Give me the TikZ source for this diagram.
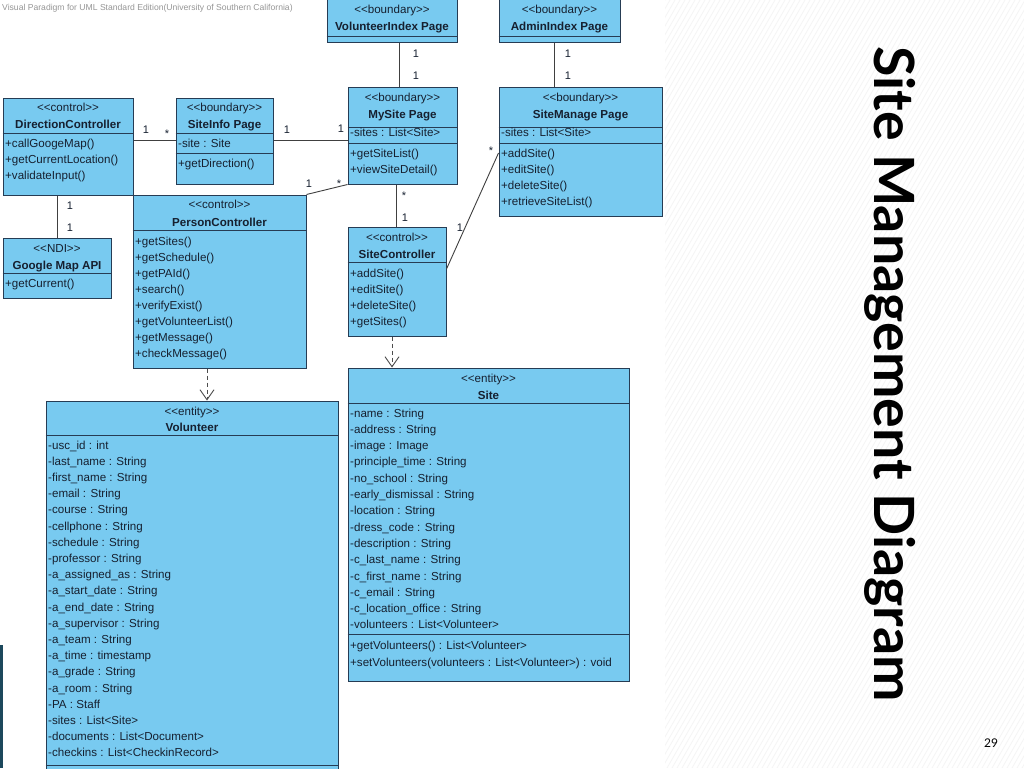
\documentclass[tikz,border=0pt]{standalone}
\usepackage{fontspec}
\setmainfont{Liberation Sans}[Ligatures=TeXOff]
\newfontfamily\titlefont{Lato}
\usetikzlibrary{fit,arrows.meta}
\definecolor{boxfill}{RGB}{120,202,240}
\definecolor{boxline}{RGB}{38,60,84}
\definecolor{txtc}{RGB}{22,32,48}
\definecolor{wmark}{RGB}{150,150,150}
\definecolor{edgebar}{RGB}{28,72,92}
\newcounter{ln}
\newcommand\umlL[3]{\stepcounter{ln}\node[mtxt] (ln\arabic{ln}) at (#1,#2) {#3};}
\newcommand\umlC[3]{\stepcounter{ln}\node[ctxt] (ln\arabic{ln}) at (#1,#2) {#3};}
\newcommand\umlB[3]{\stepcounter{ln}\node[btxt] (ln\arabic{ln}) at (#1,#2) {#3};}
\newcommand\umlM[3]{\stepcounter{ln}\node[mult] (ln\arabic{ln}) at (#1,#2) {#3};}
\tikzset{
  umlbox/.style={draw=boxline, fill=boxfill, line width=1pt, inner sep=0pt},
  sepline/.style={draw=boxline, line width=1pt},
  mtxt/.style={anchor=base west, inner sep=0pt, text=txtc, font=\fontsize{11.6}{13}\selectfont},
  ctxt/.style={anchor=base, inner sep=0pt, text=txtc, font=\fontsize{11.6}{13}\selectfont},
  btxt/.style={anchor=base, inner sep=0pt, text=txtc, font=\fontsize{11.6}{13}\selectfont\bfseries},
  mult/.style={anchor=base, inner sep=0pt, text=txtc, font=\fontsize{11}{12}\selectfont},
  assoc/.style={draw=black!75, line width=0.9pt},
  depend/.style={draw=black!70, line width=0.9pt, dash pattern=on 4pt off 3pt,
    -{Straight Barb[length=10pt,width=14pt,line width=0.9pt]}},
  hatch/.style={draw=black!4, line width=0.8pt}
}
\begin{document}
\begin{tikzpicture}[x=1pt,y=-1pt]
\useasboundingbox (0,0) rectangle (1024,768);
\fill[white] (0,0) rectangle (1024,768);
\begin{scope}
\clip (665,0) rectangle (1024,768);
\foreach \k in {665,670,...,1480} \draw[hatch] (\k,0) -- (\k-443,768);
\end{scope}
\clip (0,0) rectangle (1024,768);
\fill[edgebar] (0,645) rectangle (3,768);
\node[anchor=west, inner sep=0pt, text=wmark, font=\fontsize{8.6}{10}\selectfont] (wm) at (2,8)
  {Visual Paradigm for UML Standard Edition(University of Southern California)};

% ---------- VolunteerIndex Page
\node[umlbox, fit={(327,-3) (457,43)}] (volidx) {};
\draw[sepline] (volidx.west |- 0,37) -- (volidx.east |- 0,37);
\umlC{392}{14}{<<boundary>>}
\umlB{392}{31}{VolunteerIndex Page}

% ---------- AdminIndex Page
\node[umlbox, fit={(499,-3) (620,43)}] (admidx) {};
\draw[sepline] (admidx.west |- 0,37) -- (admidx.east |- 0,37);
\umlC{559.5}{14}{<<boundary>>}
\umlB{559.5}{31}{AdminIndex Page}

% ---------- MySite Page
\node[umlbox, fit={(348,87) (457,184)}] (mysite) {};
\draw[sepline] (mysite.west |- 0,127) -- (mysite.east |- 0,127);
\draw[sepline] (mysite.west |- 0,143) -- (mysite.east |- 0,143);
\umlC{402.5}{101}{<<boundary>>}
\umlB{402.5}{118}{MySite Page}
\umlL{350}{136}{-sites : List<Site>}
\umlL{350}{157}{+getSiteList()}
\umlL{350}{173}{+viewSiteDetail()}

% ---------- SiteManage Page
\node[umlbox, fit={(499,87) (662,216)}] (sitemng) {};
\draw[sepline] (sitemng.west |- 0,127) -- (sitemng.east |- 0,127);
\draw[sepline] (sitemng.west |- 0,143) -- (sitemng.east |- 0,143);
\umlC{580.5}{101}{<<boundary>>}
\umlB{580.5}{118}{SiteManage Page}
\umlL{501}{136}{-sites : List<Site>}
\umlL{501}{157}{+addSite()}
\umlL{501}{173}{+editSite()}
\umlL{501}{189}{+deleteSite()}
\umlL{501}{205}{+retrieveSiteList()}

% ---------- DirectionController
\node[umlbox, fit={(3,98) (133,195)}] (dirctl) {};
\draw[sepline] (dirctl.west |- 0,133) -- (dirctl.east |- 0,133);
\umlC{68}{111}{<<control>>}
\umlB{68}{128}{DirectionController}
\umlL{5}{147}{+callGoogeMap()}
\umlL{5}{163}{+getCurrentLocation()}
\umlL{5}{179}{+validateInput()}

% ---------- SiteInfo Page
\node[umlbox, fit={(176,98) (273,184)}] (siteinfo) {};
\draw[sepline] (siteinfo.west |- 0,133) -- (siteinfo.east |- 0,133);
\draw[sepline] (siteinfo.west |- 0,153) -- (siteinfo.east |- 0,153);
\umlC{224.5}{111}{<<boundary>>}
\umlB{224.5}{128}{SiteInfo Page}
\umlL{178}{147}{-site : Site}
\umlL{178}{167}{+getDirection()}

% ---------- Google Map API
\node[umlbox, fit={(3,238) (111,298)}] (gmap) {};
\draw[sepline] (gmap.west |- 0,273) -- (gmap.east |- 0,273);
\umlC{57}{252}{<<NDI>>}
\umlB{57}{269}{Google Map API}
\umlL{5}{287}{+getCurrent()}

% ---------- PersonController
\node[umlbox, fit={(133,195) (306,368)}] (perctl) {};
\draw[sepline] (perctl.west |- 0,230) -- (perctl.east |- 0,230);
\umlC{219.5}{208}{<<control>>}
\umlB{219.5}{226}{PersonController}
\foreach \t [count=\i from 0] in {+getSites(),+getSchedule(),+getPAId(),+search(),+verifyExist(),+getVolunteerList(),+getMessage(),+checkMessage()}
  {\umlL{135}{245+16*\i}{\t}}

% ---------- SiteController
\node[umlbox, fit={(348,227) (446,336)}] (sitectl) {};
\draw[sepline] (sitectl.west |- 0,262) -- (sitectl.east |- 0,262);
\umlC{397}{241}{<<control>>}
\umlB{397}{258}{SiteController}
\umlL{350}{277}{+addSite()}
\umlL{350}{293}{+editSite()}
\umlL{350}{309}{+deleteSite()}
\umlL{350}{325}{+getSites()}

% ---------- Volunteer
\node[umlbox, fit={(46,401) (338,790)}] (volunteer) {};
\draw[sepline] (volunteer.west |- 0,435) -- (volunteer.east |- 0,435);
\draw[sepline] (volunteer.west |- 0,765) -- (volunteer.east |- 0,765);
\umlC{192}{415}{<<entity>>}
\umlB{192}{431}{Volunteer}
\foreach \t [count=\i from 0] in {-usc\_id : int,-last\_name : String,-first\_name : String,-email : String,-course : String,-cellphone : String,-schedule : String,-professor : String,-a\_assigned\_as : String,-a\_start\_date : String,-a\_end\_date : String,-a\_supervisor : String,-a\_team : String,-a\_time : timestamp,-a\_grade : String,-a\_room : String,-PA : Staff,-sites : List<Site>,-documents : List<Document>,-checkins : List<CheckinRecord>}
  {\umlL{48}{449+16.2*\i}{\t}}

% ---------- Site
\node[umlbox, fit={(348,368) (629,681)}] (site) {};
\draw[sepline] (site.west |- 0,403) -- (site.east |- 0,403);
\draw[sepline] (site.west |- 0,634) -- (site.east |- 0,634);
\umlC{488.5}{382}{<<entity>>}
\umlB{488.5}{399}{Site}
\foreach \t [count=\i from 0] in {-name : String,-address : String,-image : Image,-principle\_time : String,-no\_school : String,-early\_dismissal : String,-location : String,-dress\_code : String,-description : String,-c\_last\_name : String,-c\_first\_name : String,-c\_email : String,-c\_location\_office : String,-volunteers : List<Volunteer>}
  {\umlL{350}{417+16.3*\i}{\t}}
\umlL{350}{649}{+getVolunteers() : List<Volunteer>}
\umlL{350}{666}{+setVolunteers(volunteers : List<Volunteer>) : void}

% ---------- associations
\draw[assoc] (volidx.south -| 399,0) -- (mysite.north -| 399,0);
\umlM{416}{57}{1}\umlM{416}{79}{1}
\draw[assoc] (admidx.south -| 554,0) -- (sitemng.north -| 554,0);
\umlM{568}{57}{1}\umlM{568}{79}{1}
\draw[assoc] (dirctl.east |- 0,140) -- (siteinfo.west |- 0,140);
\umlM{146}{133}{1}\umlM{167}{137}{*}
\draw[assoc] (siteinfo.east |- 0,140) -- (mysite.west |- 0,140);
\umlM{287}{133}{1}\umlM{341}{132}{1}
\draw[assoc] (dirctl.south -| 57,0) -- (gmap.north -| 57,0);
\umlM{70}{209}{1}\umlM{70}{231}{1}
\draw[assoc] (perctl.north east) -- (mysite.south west);
\umlM{309}{187}{1}\umlM{339}{187}{*}
\draw[assoc] (mysite.south -| 396,0) -- (sitectl.north -| 396,0);
\umlM{404}{199}{*}\umlM{405}{221}{1}
\draw[assoc] (sitectl.east |- 0,269) -- (sitemng.west |- 0,153);
\umlM{460}{231}{1}\umlM{491}{154}{*}

% ---------- dependencies
\draw[depend] (perctl.south -| 207,0) -- (volunteer.north -| 207,0);
\draw[depend] (sitectl.south -| 392,0) -- (site.north -| 392,0);

% ---------- title and page number
\node[rotate=-90, anchor=base west, inner sep=0pt, font=\titlefont\bfseries\fontsize{55.5}{58}\selectfont] (title) at (874,46) {Site Management Diagram};
\node[anchor=base, inner sep=0pt, font=\titlefont\fontsize{12}{14}\selectfont] (pageno) at (991,747) {29};
\end{tikzpicture}
\end{document}
